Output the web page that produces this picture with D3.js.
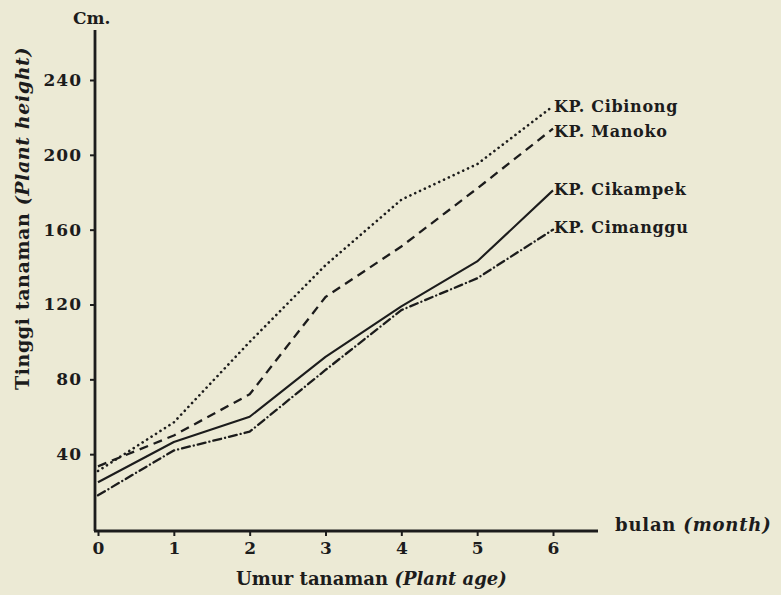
<!DOCTYPE html>
<html>
<head>
<meta charset="utf-8">
<script src="https://cdn.jsdelivr.net/npm/d3@7"></script>
<style>
  html, body { margin: 0; padding: 0; background: #ecead5; }
  svg { display: block; }
  text { font-family: "DejaVu Serif", "Liberation Serif", serif; fill: #1c1c1c; }
</style>
</head>
<body>
<svg id="chart" width="781" height="595"></svg>
<script>
// ---- data ----
const months = [0, 1, 2, 3, 4, 5, 6];
const xTickLabels = ["0", "1", "2", "3", "4", "5", "6"];
const yTickValues = [40, 80, 120, 160, 200, 240];
const seriesNames = ["KP. Cibinong", "KP. Manoko", "KP. Cikampek", "KP. Cimanggu"];
const cibinong = [31, 57, 100, 141, 176, 195, 226];
const manoko   = [33.5, 50, 72, 124, 151, 182, 214];
const cikampek = [25, 46.5, 60, 92, 119, 143, 181];
const cimanggu = [18, 42, 52, 85, 117, 134, 160];
const yAxisTitle = "Tinggi tanaman";
const yAxisTitleEn = "(Plant height)";
const xAxisTitle = "Umur tanaman";
const xAxisTitleEn = "(Plant age)";
const xUnit = "bulan";
const xUnitEn = "(month)";
const yUnit = "Cm.";

// ---- layout ----
const svg = d3.select("#chart");
const x = d3.scaleLinear().domain([0, 6]).range([98, 553]);
const y = d3.scaleLinear().domain([0, 240]).range([529, 80]);
const xMax = x.invert(598);
const yMax = y.invert(30);
const ink = "#1c1c1c";

// axes
const yAxis = d3.axisLeft(y).tickValues(yTickValues).tickSize(5).tickSizeOuter(0).tickPadding(8);
const yG = svg.append("g").attr("transform", `translate(${x(0) - 3},0)`).call(yAxis);
yG.select(".domain").remove();
yG.append("line").attr("x1", 0).attr("x2", 0).attr("y1", y(yMax)).attr("y2", y(0) + 2)
  .attr("stroke", ink).attr("stroke-width", 2.8);
yG.selectAll(".tick line").attr("stroke", ink).attr("stroke-width", 2);
yG.selectAll(".tick text").attr("font-size", 17).attr("font-weight", "bold")
  .attr("letter-spacing", 1).attr("fill", ink);

const xAxis = d3.axisBottom(x).tickValues(months).tickFormat((d, i) => xTickLabels[i])
  .tickSize(5).tickSizeOuter(0).tickPadding(6);
const xG = svg.append("g").attr("transform", `translate(0,${y(0) + 2})`).call(xAxis);
xG.select(".domain").remove();
xG.append("line").attr("x1", x(0) - 4).attr("x2", x(xMax)).attr("y1", 0).attr("y2", 0)
  .attr("stroke", ink).attr("stroke-width", 2.8);
xG.selectAll(".tick line").attr("stroke", ink).attr("stroke-width", 2);
xG.selectAll(".tick text").attr("font-size", 17).attr("font-weight", "bold").attr("fill", ink);

// series
const allSeries = [cibinong, manoko, cikampek, cimanggu];
const dashes = ["0.1 5.2", "9 6", null, "8 4 0.1 4"];
const caps = ["round", "butt", "butt", "round"];
const widths = [2.6, 2.3, 2.1, 2.3];
const labelShift = [0, 3, -1, -2];
const line = d3.line().x((d, i) => x(months[i])).y(d => y(d));
allSeries.forEach((s, k) => {
  const p = svg.append("path").datum(s).attr("d", line)
    .attr("fill", "none").attr("stroke", ink).attr("stroke-width", widths[k])
    .attr("stroke-linecap", caps[k]).attr("stroke-linejoin", "round");
  if (dashes[k]) p.attr("stroke-dasharray", dashes[k]);
  svg.append("text").attr("x", x(months[months.length - 1]) + 1)
    .attr("y", y(s[s.length - 1]) + labelShift[k])
    .attr("dy", "0.35em").attr("font-size", 16).attr("font-weight", "bold")
    .attr("letter-spacing", 0.7)
    .text(seriesNames[k]);
});

// titles
svg.append("text").attr("x", 73).attr("y", 24).attr("font-size", 17).attr("font-weight", "bold").text(yUnit);

const xt = svg.append("text").attr("x", 236).attr("y", 585).attr("font-size", 18).attr("font-weight", "bold");
xt.append("tspan").text(xAxisTitle + " ");
xt.append("tspan").attr("font-style", "italic").text(xAxisTitleEn);

const xu = svg.append("text").attr("x", 615).attr("y", 531).attr("font-size", 18).attr("font-weight", "bold")
  .attr("letter-spacing", 0.8);
xu.append("tspan").text(xUnit + " ");
xu.append("tspan").attr("font-style", "italic").text(xUnitEn);

const yt = svg.append("text").attr("transform", "translate(29,390) rotate(-90)")
  .attr("font-size", 19).attr("font-weight", "bold").attr("letter-spacing", 0.6);
yt.append("tspan").text(yAxisTitle + " ");
yt.append("tspan").attr("font-style", "italic").text(yAxisTitleEn);
</script>
</body>
</html>
